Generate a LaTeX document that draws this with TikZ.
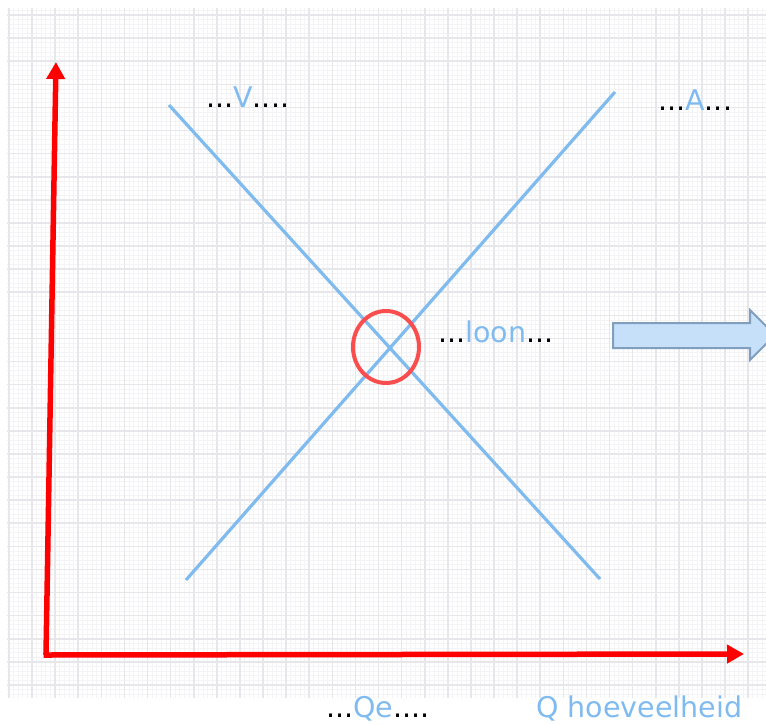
\documentclass[tikz,border=0pt]{standalone}
\usepackage{fontspec}
\setmainfont{DejaVu Sans}
\usetikzlibrary{arrows.meta}
\usepackage{xcolor}
\definecolor{axisred}{RGB}{255,0,0}
\definecolor{curveblue}{RGB}{128,187,240}
\definecolor{ringred}{RGB}{250,78,78}
\definecolor{arrowfill}{RGB}{198,224,250}
\definecolor{arrowdraw}{RGB}{128,158,190}
\definecolor{gridminor}{RGB}{244,244,247}
\definecolor{gridmajor}{RGB}{231,231,235}
\tikzset{
  minorline/.style={draw=gridminor,line width=0.8pt},
  majorline/.style={draw=gridmajor,line width=1.6pt},
  axis/.style={draw=axisred,line width=5.5pt,-{Triangle[length=17pt,width=18pt]}},
  curve/.style={draw=curveblue,line width=3.2pt},
  ring/.style={draw=ringred,line width=4pt},
  blockarrow/.style={draw=arrowdraw,fill=arrowfill,line width=2pt,line join=miter},
  lbl/.style={anchor=base west,inner sep=0pt,font=\fontsize{28.5}{32}\selectfont}
}
\newcommand{\bl}[1]{\textcolor{curveblue}{#1}}

\begin{document}
\begin{tikzpicture}[x=1pt,y=-1pt]
  \clip (0,0) rectangle (766,724);
  \fill[white] (0,0) rectangle (766,724);

  % grid paper
  \begin{scope}
    \clip (7,8) rectangle (766,697);
    \foreach \k in {-6,...,160} \draw[minorline] ({32+4.62*\k},0) -- ++(0,724);
    \foreach \k in {-4,...,150} \draw[minorline] (0,{15+4.62*\k}) -- ++(766,0);
    \foreach \k in {-1,...,32} \draw[majorline] ({32+23.1*\k},0) -- ++(0,724);
    \foreach \k in {-1,...,30} \draw[majorline] (0,{15+23.1*\k}) -- ++(766,0);
  \end{scope}

  % axes
  \coordinate (origin) at (46,655);
  \coordinate (ytop)   at (56,62);
  \coordinate (xend)   at (744,654);
  \draw[axis] (origin) -- (ytop);
  \draw[axis] ([xshift=-2.5pt]origin) -- (xend);

  % curves
  \coordinate (v1) at (169,105);
  \coordinate (v2) at (600,579);
  \coordinate (a1) at (186,580);
  \coordinate (a2) at (615,92);
  \draw[curve] (v1) -- (v2);
  \draw[curve] (a1) -- (a2);

  % equilibrium
  \coordinate (eq) at (386,347);
  \draw[ring] (eq) ellipse [x radius=33, y radius=36];

  % shift arrow
  \draw[blockarrow] (613,323) -- (750,323) -- (750,310) -- (775,335)
    -- (750,360) -- (750,348) -- (613,348) -- cycle;

  % labels
  \node[lbl] (vlabel)  at (206,107) {...\bl{V}....};
  \node[lbl] (alabel)  at (658,110) {...\bl{A}...};
  \node[lbl] (loon)    at (438,342) {...\bl{loon}...};
  \node[lbl] (qe)      at (326,717) {...\bl{Qe}....};
  \node[lbl] (qaxis)   at (536,717) {\bl{Q hoeveelheid}};
\end{tikzpicture}
\end{document}
